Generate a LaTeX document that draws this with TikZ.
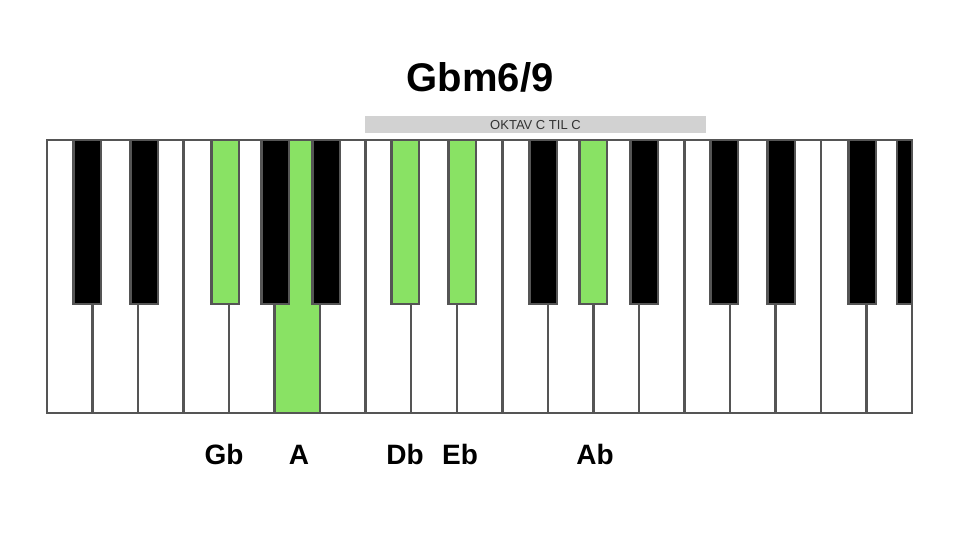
\documentclass[tikz,border=0pt]{standalone}
\usepackage{fontspec}
\setmainfont{Liberation Sans}
\definecolor{keygreen}{RGB}{137,226,100}
\definecolor{keyline}{RGB}{85,85,85}
\definecolor{barfill}{RGB}{210,210,210}
\tikzset{
  whitekey/.style={rectangle, draw=keyline, line width=2.5pt, inner sep=0pt, minimum width=45.53pt, minimum height=273pt, fill=white},
  blackkey/.style={rectangle, draw=keyline, line width=2.5pt, inner sep=0pt, minimum width=27.5pt, minimum height=164pt, fill=black},
  notename/.style={anchor=base, font=\fontsize{28}{32}\selectfont\bfseries}
}
\begin{document}
\begin{tikzpicture}[x=1pt,y=-1pt]
  \useasboundingbox (0,0) rectangle (960,540);

  \node [anchor=base, font=\fontsize{40}{44}\selectfont\bfseries] (title) at (480,92) {Gbm6/9};

  \node [fill=barfill, minimum width=341pt, minimum height=17pt, inner sep=0pt] (octave) at (535.5,125) {};
  \node [font=\fontsize{13}{14}\selectfont, text=black!80] (octavetext) at (octave) {OKTAV C TIL C};

  % white keys
  \foreach \i in {0,...,4,6,7,...,18}
    \node [whitekey] (w\i) at (69.76+45.53*\i,276.5) {};
  \node [whitekey, fill=keygreen] (w5) at (297.41,276.5) {};

  % black keys
  \foreach \x/\n in {87/cs1,144/ds1,275/gs1,326/as1,543/fs2,644/as2,724/cs3,781/ds3,862/fs3}
    \node [blackkey] (\n) at (\x,222) {};
  \node [blackkey, minimum width=15pt] (gs3) at (904.5,222) {};
  \node [blackkey, fill=keygreen] (fs1) at (225,222) {};
  \node [blackkey, fill=keygreen] (cs2) at (405,222) {};
  \node [blackkey, fill=keygreen] (ds2) at (462,222) {};
  \node [blackkey, fill=keygreen] (gs2) at (593,222) {};

  % note names
  \node [notename] (lblGb) at (224,464) {Gb};
  \node [notename] (lblA) at (299,464) {A};
  \node [notename] (lblDb) at (405,464) {Db};
  \node [notename] (lblEb) at (460,464) {Eb};
  \node [notename] (lblAb) at (595,464) {Ab};
\end{tikzpicture}
\end{document}
